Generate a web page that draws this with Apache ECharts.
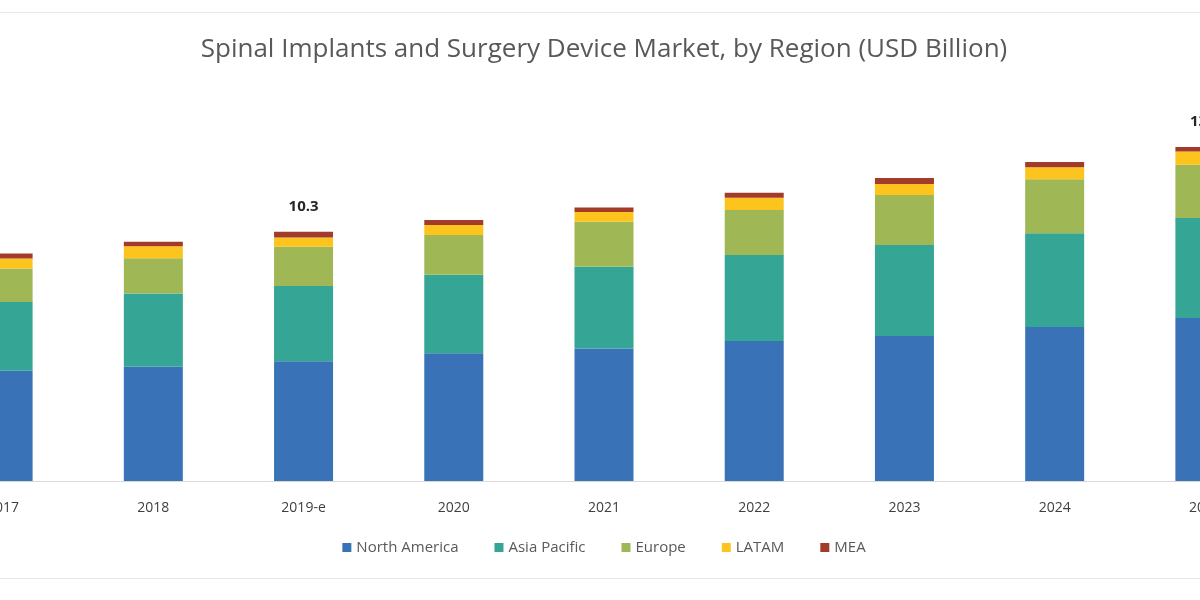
<!DOCTYPE html>
<html>
<head>
<meta charset="utf-8">
<script src="https://cdn.jsdelivr.net/npm/echarts@6/dist/echarts.min.js"></script>
<style>
html,body{margin:0;padding:0;background:#fff;}
#wrap{position:relative;width:1200px;height:600px;overflow:hidden;background:#fff;}
#chart{position:absolute;left:-72px;top:0;width:1352px;height:600px;}
#frame{position:absolute;left:-1px;top:12px;width:1200px;height:565px;border:1px solid #e8e8e8;pointer-events:none;}
</style>
</head>
<body>
<div id="wrap">
  <div id="chart"></div>
  <div id="frame"></div>
</div>
<script>
const categories = ['2017', '2018', '2019-e', '2020', '2021', '2022', '2023', '2024', '2025'];
const northAmerica = [4.56, 4.72, 4.95, 5.28, 5.48, 5.79, 5.99, 6.36, 6.74];
const asiaPacific  = [2.84, 3.03, 3.11, 3.24, 3.37, 3.55, 3.76, 3.88, 4.13];
const europe       = [1.38, 1.45, 1.62, 1.65, 1.86, 1.86, 2.07, 2.23, 2.20];
const latam        = [0.41, 0.50, 0.38, 0.41, 0.41, 0.50, 0.45, 0.50, 0.55];
const mea          = [0.21, 0.19, 0.24, 0.21, 0.18, 0.21, 0.25, 0.21, 0.18];
const totalLabels  = ['', '', '10.3', '', '', '', '', '', '13.8'];

const seriesNames = ['North America', 'Asia Pacific', 'Europe', 'LATAM', 'MEA'];
const seriesData = [northAmerica, asiaPacific, europe, latam, mea];
const colors = ['#3a72b8', '#35a695', '#9fb754', '#fdc41e', '#a33b2a'];

const chart = echarts.init(document.getElementById('chart'));
const series = seriesNames.map((name, i) => {
  const s = {
    name: name,
    type: 'bar',
    stack: 'total',
    barWidth: 59,
    data: seriesData[i],
    itemStyle: { color: colors[i] },
    emphasis: { disabled: true }
  };
  if (i === seriesNames.length - 1) {
    s.label = {
      show: true,
      position: 'top',
      distance: 18,
      color: '#262626',
      fontSize: 15,
      fontWeight: 'bold',
      fontFamily: 'Open Sans',
      formatter: p => totalLabels[p.dataIndex]
    };
  }
  return s;
});

chart.setOption({
  animation: false,
  backgroundColor: '#ffffff',
  color: colors,
  title: {
    text: 'Spinal Implants and Surgery Device Market, by Region (USD Billion)',
    left: 'center',
    top: 32,
    textStyle: { color: '#595959', fontSize: 26, fontWeight: 'normal', fontFamily: 'Open Sans' }
  },
  legend: {
    bottom: 40,
    left: 'center',
    itemWidth: 9,
    itemHeight: 9,
    itemGap: 36,
    icon: 'rect',
    textStyle: { color: '#595959', fontSize: 15, fontFamily: 'Open Sans' },
    data: seriesNames
  },
  grid: { left: 0, right: 0, top: 118, bottom: 119, containLabel: false },
  xAxis: {
    type: 'category',
    data: categories,
    axisLine: { show: true, lineStyle: { color: '#d9d9d9', width: 1 } },
    axisTick: { show: false },
    axisLabel: { color: '#404040', fontSize: 14, margin: 20, fontFamily: 'Open Sans' }
  },
  yAxis: {
    type: 'value',
    min: 0,
    max: 15,
    show: false,
    splitLine: { show: false }
  },
  series: series
});
</script>
</body>
</html>
